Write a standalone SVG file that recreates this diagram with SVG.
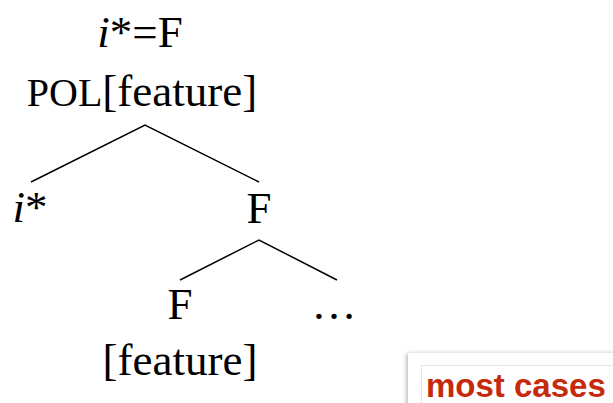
<svg xmlns="http://www.w3.org/2000/svg" width="613" height="403" viewBox="0 0 613 403">
<defs>
<style>
.t{font-family:"Liberation Serif","Times New Roman",serif;font-size:45px;fill:#000}
.it{font-style:italic}
.sc{font-size:40px}
.e{stroke:#000;stroke-width:1.5;fill:none}
.lbl{font-family:"Liberation Sans",Arial,sans-serif;font-weight:bold;font-size:33px;fill:#c52a0c}
</style>
<filter id="sh" x="-20%" y="-20%" width="140%" height="140%">
<feGaussianBlur in="SourceAlpha" stdDeviation="2.5"/>
<feOffset dx="-1" dy="1"/>
<feComponentTransfer><feFuncA type="linear" slope="0.35"/></feComponentTransfer>
<feMerge><feMergeNode/><feMergeNode in="SourceGraphic"/></feMerge>
</filter>
</defs>
<rect width="613" height="403" fill="#fff"/>
<g id="root">
<text class="t" x="140" y="47" text-anchor="middle"><tspan class="it">i</tspan>*=F</text>
<text class="t" x="142" y="106" text-anchor="middle"><tspan class="sc">POL</tspan>[feature]</text>
</g>
<g id="istar">
<text class="t" x="30" y="222" text-anchor="middle"><tspan class="it">i</tspan>*</text>
</g>
<g id="F1">
<text class="t" x="259" y="223" text-anchor="middle">F</text>
</g>
<g id="F2">
<text class="t" x="180" y="319" text-anchor="middle">F</text>
<text class="t" x="180" y="375" text-anchor="middle">[feature]</text>
</g>
<g id="dots">
<text class="t" x="334" y="319" text-anchor="middle">…</text>
</g>
<g id="connectors">
<polyline class="e" points="31,182 145,125 259,182"/>
<polyline class="e" points="180,280 259,240 337,280"/>
</g>
<g id="label">
<rect x="408" y="353" width="230" height="80" fill="#fff" filter="url(#sh)"/>
<rect x="421.5" y="365.5" width="220" height="60" fill="#fff" stroke="#e6e6e6"/>
<text class="lbl" x="426" y="397">most cases</text>
</g>
</svg>
